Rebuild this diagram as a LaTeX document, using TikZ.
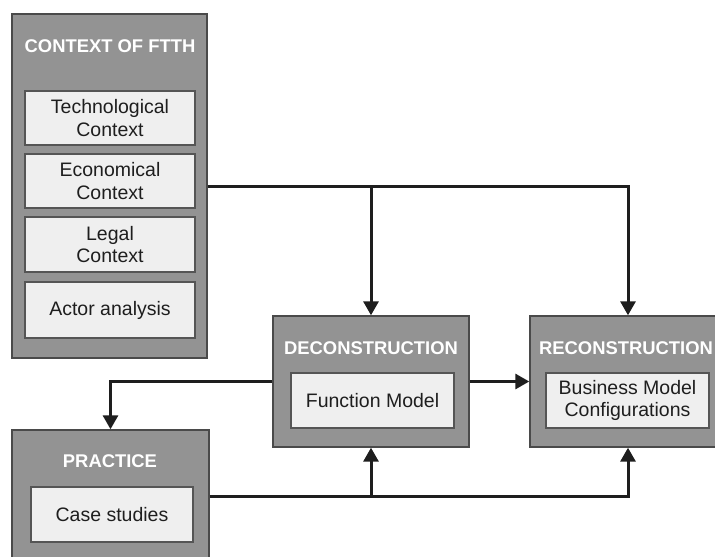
\documentclass[tikz,border=0pt]{standalone}
\usepackage{fontspec}
\setmainfont{Liberation Sans}
\usetikzlibrary{arrows.meta}
\definecolor{outerfill}{HTML}{939393}
\definecolor{outerdraw}{HTML}{4A4A4A}
\definecolor{innerfill}{HTML}{EFEFEF}
\definecolor{innerdraw}{HTML}{555555}
\definecolor{ink}{HTML}{1E1E1E}
\begin{document}
\begin{tikzpicture}[x=1pt,y=-1pt,
  outerbox/.style={draw=outerdraw,fill=outerfill,line width=1.4pt,rectangle,inner sep=0pt},
  innerbox/.style={draw=innerdraw,fill=innerfill,line width=1.2pt,rectangle,inner sep=0pt,align=center,
     text=ink,font=\fontsize{19.5}{22.5}\selectfont},
  title/.style={text=white,font=\fontsize{18.4}{21}\selectfont\bfseries,inner sep=0pt},
  conn/.style={draw=ink,line width=3pt},
  arr/.style={conn,-{Triangle[width=15pt,length=14pt]}}]
\clip (0,0) rectangle (715,557);
\fill[white] (0,0) rectangle (715,557);
% context
\node[outerbox,minimum width=195pt,minimum height=344pt] (ctx) at (109.5,186) {};
\node[title] (ctxt) at (110,46) {CONTEXT OF FTTH};
\node[innerbox,minimum width=170pt,minimum height=54pt] (tech) at (110,118) {Technological\\Context};
\node[innerbox,minimum width=170pt,minimum height=54pt] (econ) at (110,181) {Economical\\Context};
\node[innerbox,minimum width=170pt,minimum height=55pt] (legal) at (110,244.5) {Legal\\Context};
\node[innerbox,minimum width=170pt,minimum height=56pt] (actor) at (110,310) {Actor analysis};
% deconstruction
\node[outerbox,minimum width=196pt,minimum height=131pt] (decon) at (371,381.5) {};
\node[title] (dect) at (371,348) {DECONSTRUCTION};
\node[innerbox,minimum width=163pt,minimum height=55pt] (func) at (372.5,400.5) {Function Model};
% reconstruction
\node[outerbox,minimum width=196pt,minimum height=131pt] (recon) at (628,381.5) {};
\node[title] (rect) at (626,348) {RECONSTRUCTION};
\node[innerbox,minimum width=163pt,minimum height=55pt] (bmc) at (627.5,400.5) {Business Model\\Configurations};
% practice
\node[outerbox,minimum width=197pt,minimum height=132pt] (prac) at (110.5,496) {};
\node[title] (pract) at (110,461) {PRACTICE};
\node[innerbox,minimum width=162pt,minimum height=55pt] (case) at (112,514.5) {Case studies};
% connectors
\draw[arr] (ctx.east) -| (recon.north);
\draw[arr] (ctx.east -| decon.north) -- (decon.north);
\draw[arr] (decon.west) -| (prac.north);
\draw[arr] (decon.east) -- (recon.west);
\draw[arr] (prac.east) -| (recon.south);
\draw[arr] (prac.east -| decon.south) -- (decon.south);
\end{tikzpicture}
\end{document}
